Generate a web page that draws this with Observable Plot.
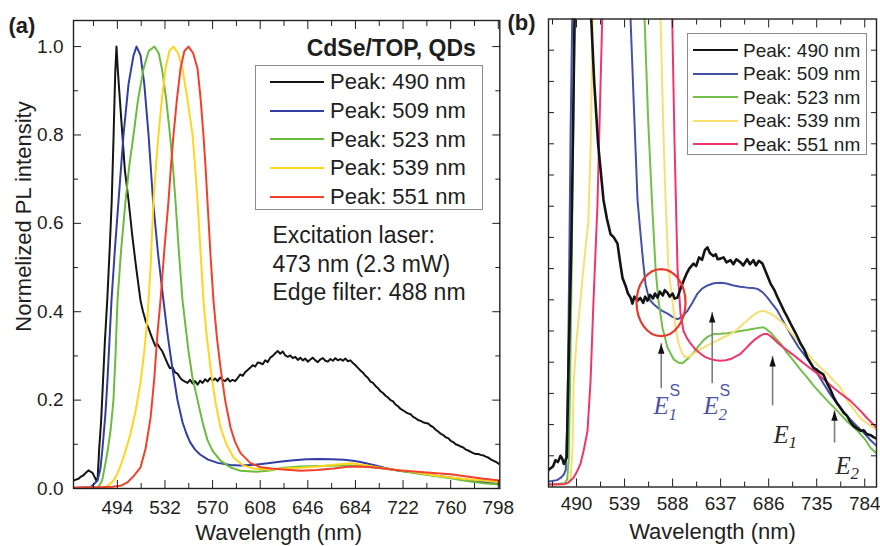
<!DOCTYPE html>
<html><head><meta charset="utf-8">
<script src="https://cdn.jsdelivr.net/npm/d3@7"></script>
<script src="https://cdn.jsdelivr.net/npm/@observablehq/plot@0.6"></script>
<style>
body{margin:0;background:#fff;}
#wrap{position:relative;width:880px;height:546px;overflow:hidden;background:#fff;font-family:"Liberation Sans",Arial,sans-serif;color:#1e1e1e;}
#pa{position:absolute;left:0;top:0;}
#pb{position:absolute;left:505px;top:0;}
#pa svg,#pb svg{overflow:visible;}
.legend{position:absolute;border:1px solid #8c8c8c;background:#fff;box-sizing:border-box;}
.legend .sw{position:absolute;height:0;border-top:2px solid #000;}
.legend .lb{position:absolute;white-space:nowrap;color:#1e1e1e;}
</style></head>
<body><div id="wrap"><div id="pa"></div><div id="pb"></div></div>
<script>
// ---------- series labels & colours ----------
const seriesNames = ["Peak: 490 nm", "Peak: 509 nm", "Peak: 523 nm", "Peak: 539 nm", "Peak: 551 nm"];
const colorsA = ["#141414", "#323ea3", "#6abb3e", "#ffd51e", "#f2402b"];
const colorsB = ["#141414", "#4550a8", "#72bf4a", "#f7df72", "#f0346c"];

// ---------- panel (a): normalized spectra [wavelength nm, intensity] ----------
const A490 = [[459,0.018],[461,0.02],[463,0.022],[465,0.027],[467,0.03],[469,0.036],[471,0.041],[472.5,0.038],[474,0.036],[475.5,0.028],[477,0.019],[478.3,0.024],[479.5,0.09],[481,0.15],[482.5,0.24],[484,0.33],[486,0.43],[488,0.55],[489.5,0.65],[491,0.8],[492.3,0.94],[493.3,1.0],[494.3,0.95],[495.5,0.9],[496.5,0.86],[498,0.8],[500,0.72],[503,0.65],[506,0.57],[509,0.5],[512.5,0.425],[514.5,0.4],[516.5,0.38],[518.5,0.365],[520.5,0.35],[522.5,0.335],[524.4,0.322],[526,0.327],[528,0.318],[530,0.31],[532,0.296],[534,0.283],[536,0.272],[538,0.274],[540,0.263],[542,0.26],[544,0.251],[546,0.245],[548,0.242],[550,0.239],[552,0.246],[554,0.238],[556,0.243],[558,0.235],[560,0.244],[562,0.239],[564,0.247],[566,0.242],[568,0.25],[570,0.244],[572,0.249],[574,0.243],[576,0.251],[578,0.246],[580,0.243],[582,0.249],[584,0.242],[586,0.246],[588,0.243],[590,0.25],[592,0.258],[594,0.255],[596,0.263],[598,0.268],[600,0.273],[602,0.279],[604,0.276],[606,0.285],[608,0.284],[610,0.281],[612,0.29],[614,0.286],[616,0.296],[618,0.3],[620,0.306],[622,0.311],[624,0.305],[626,0.31],[628,0.301],[630,0.298],[632,0.301],[634,0.295],[636,0.298],[638,0.291],[640,0.296],[642,0.29],[644,0.294],[646,0.287],[648,0.292],[650,0.296],[652,0.29],[654,0.286],[656,0.292],[658,0.295],[660,0.289],[662,0.287],[664,0.293],[666,0.289],[668,0.295],[670,0.29],[672,0.293],[674,0.289],[676,0.294],[678,0.288],[680,0.29],[682,0.284],[684,0.279],[686,0.273],[688,0.267],[690,0.262],[692,0.255],[694,0.25],[696,0.242],[698,0.239],[700,0.232],[702,0.227],[704,0.22],[706,0.216],[708,0.21],[710,0.206],[712,0.2],[714,0.197],[716,0.19],[718,0.186],[720,0.18],[722,0.177],[724,0.173],[726,0.17],[728,0.168],[730,0.162],[732,0.159],[734,0.155],[736,0.153],[738,0.15],[740,0.148],[742,0.147],[744,0.142],[746,0.139],[748,0.133],[750,0.129],[752,0.124],[754,0.121],[756,0.116],[758,0.114],[760,0.108],[762,0.105],[764,0.1],[766,0.098],[768,0.095],[770,0.093],[772,0.088],[774,0.086],[776,0.083],[778,0.08],[780,0.078],[782,0.078],[784,0.076],[786,0.075],[788,0.072],[790,0.07],[792,0.066],[794,0.063],[796,0.06],[798,0.057],[799.2,0.054]];
const A509 = [[459,0.001],[472.6,0.003],[478.2,0.018],[480.5,0.045],[482.1,0.09],[484.5,0.17],[486.1,0.245],[487.8,0.34],[489.3,0.425],[492,0.54],[494.9,0.65],[498.9,0.8],[502.9,0.915],[506.9,0.98],[509.3,1.0],[512.5,0.98],[515.5,0.915],[518.9,0.8],[522.5,0.65],[526.5,0.53],[530.8,0.425],[534,0.35],[538,0.27],[542,0.2],[546,0.15],[549,0.125],[552,0.105],[556,0.088],[560,0.077],[566,0.066],[574,0.058],[584,0.053],[592,0.052],[604,0.054],[614,0.057],[625,0.061],[635,0.064],[645,0.066],[655,0.067],[665,0.066],[675,0.065],[682,0.063],[688,0.06],[694,0.056],[700,0.052],[707,0.047],[715,0.042],[725,0.038],[734,0.035],[745,0.03],[760,0.025],[775,0.019],[786,0.015],[799.2,0.011]];
const A523 = [[459,0],[479,0.003],[482,0.02],[484.5,0.057],[486.5,0.09],[488.5,0.13],[490.9,0.2],[492.5,0.3],[494.1,0.425],[497,0.54],[500.5,0.65],[503.5,0.73],[506.9,0.8],[510.5,0.88],[514.9,0.95],[519,0.99],[523.6,1.0],[527,0.985],[529.6,0.95],[533,0.88],[536,0.8],[538.3,0.73],[540.4,0.65],[543,0.54],[546,0.425],[550.8,0.31],[554,0.25],[558,0.2],[562,0.15],[565.9,0.11],[570,0.085],[576.3,0.063],[584,0.048],[592.3,0.04],[605,0.038],[614,0.04],[626.6,0.047],[640,0.05],[655,0.051],[670,0.052],[680,0.052],[692,0.05],[706.4,0.045],[720,0.04],[733.5,0.034],[746,0.029],[759.9,0.023],[773,0.017],[786.2,0.012],[799.2,0.009]];
const A539 = [[459,0],[480,0.001],[484.5,0.003],[488,0.01],[490.9,0.018],[494.1,0.034],[497,0.055],[500,0.08],[504.5,0.124],[508.5,0.175],[512.5,0.24],[515.5,0.31],[518.1,0.39],[520.5,0.5],[522.8,0.65],[524.8,0.73],[526.8,0.8],[529.5,0.88],[532.4,0.95],[535.5,0.99],[538.8,1.0],[542.5,0.985],[546,0.95],[550,0.88],[554,0.8],[556,0.73],[558,0.65],[560.5,0.53],[562.7,0.425],[565.5,0.34],[568.3,0.274],[572,0.2],[576.3,0.138],[581,0.1],[586.7,0.07],[594,0.053],[602.7,0.045],[615,0.043],[626.6,0.045],[640,0.047],[653.7,0.05],[667,0.054],[680.1,0.057],[693,0.052],[706.4,0.046],[720,0.041],[733.5,0.036],[746,0.03],[759.9,0.025],[773,0.021],[786.2,0.018],[799.2,0.014]];
const A551 = [[459,0.002],[480,0.003],[490,0.004],[496.5,0.006],[502.1,0.014],[507,0.028],[512.5,0.048],[516.5,0.09],[520.5,0.16],[523.5,0.25],[526,0.35],[528.4,0.425],[531.5,0.54],[534.8,0.65],[536.8,0.73],[538.8,0.8],[541.5,0.88],[544.4,0.95],[547.5,0.99],[550.8,1.0],[554.5,0.985],[558,0.95],[560.5,0.88],[562.7,0.8],[564.3,0.73],[565.9,0.65],[568.3,0.53],[570.7,0.425],[573.5,0.34],[576.3,0.274],[580,0.2],[584.3,0.138],[588,0.105],[592.3,0.08],[600,0.058],[608.2,0.048],[617,0.045],[626.6,0.043],[640.2,0.04],[653,0.042],[666.5,0.045],[678,0.049],[688,0.05],[697,0.048],[706.4,0.045],[720,0.041],[733.5,0.038],[746,0.035],[759.9,0.032],[773,0.027],[786.2,0.022],[799.2,0.018]];

// ---------- panel (b): zoomed spectra [wavelength nm, intensity a.u.] ----------
const B490 = [[461.4,0.55],[463.5,0.6],[466,0.66],[468.5,0.86],[471,0.8],[473.7,1.0],[475.5,0.9],[477,0.74],[478.5,0.85],[480,0.95],[481.5,3.4],[483,5.5],[484.5,7.5],[486,10.5],[488,15],[490,19],[494,24],[499,21],[502,17.5],[505,15],[508,13],[512,11],[517.5,9.2],[521,8.6],[524.7,8.1],[528,8.0],[531.8,7.8],[534,7.3],[536.9,6.7],[540,6.45],[542.5,6.2],[545.1,6.07],[547,5.88],[549,6.1],[552.2,5.97],[555,6.06],[558,5.9],[560,6.1],[562.4,5.97],[565,6.16],[568,6.04],[570,6.2],[572.6,6.07],[575,6.26],[578,6.14],[580,6.31],[582.8,6.22],[585,6.1],[588,6.2],[590,6.04],[593,6.07],[596,6.35],[599.1,6.6],[602,6.82],[605,7.0],[609.3,7.16],[612,7.08],[615,7.36],[618,7.28],[621,7.6],[623.6,7.68],[626,7.5],[629.7,7.4],[632,7.46],[634,7.3],[636.9,7.32],[640,7.36],[643,7.2],[647.1,7.27],[650,7.14],[653,7.3],[657.3,7.2],[660,7.1],[664,7.3],[667,7.14],[670.5,7.27],[673,7.1],[676,7.25],[679.7,7.16],[683,6.9],[687.9,6.52],[692,6.3],[695,6.08],[698.1,5.88],[702,5.62],[705,5.45],[708.3,5.24],[712,5.02],[715,4.84],[718.5,4.6],[722,4.42],[725.6,4.14],[728,4.02],[731.7,3.82],[735,3.76],[738,3.68],[741.9,3.6],[746,3.3],[749,3.12],[752,2.9],[755.5,2.7],[759,2.55],[762.5,2.38],[766,2.28],[769,2.1],[772.5,1.96],[776,1.88],[780,1.8],[783,1.82],[786,1.7],[790,1.66],[793,1.6],[796,1.55]];
const B509 = [[461.4,0.18],[465,0.19],[470,0.22],[473.7,0.29],[477,0.4],[479,0.55],[480.8,2.3],[482.5,7],[484,11.5],[485.6,15],[488,20],[495,26],[509,30],[525,26],[538,20],[545.1,15],[548.5,12.2],[552.2,9.2],[555.3,8.1],[558,7.2],[560.4,6.5],[563,6.15],[565.5,5.97],[569,5.85],[572.6,5.75],[577,5.65],[582.8,5.56],[587,5.47],[591,5.4],[593.5,5.38],[596.1,5.43],[599,5.5],[603.2,5.65],[608,5.9],[613.4,6.2],[618,6.36],[623.6,6.46],[630,6.53],[636.9,6.55],[643,6.52],[650.1,6.46],[657,6.42],[664.4,6.39],[670,6.38],[674.6,6.35],[680,6.24],[684.8,6.07],[690,5.85],[695,5.65],[701,5.3],[708.3,4.9],[716,4.5],[725.6,4.1],[734,3.72],[741.9,3.32],[749,2.96],[757,2.62],[766,2.28],[775,1.98],[783,1.74],[790,1.5],[796,1.32]];
const B523 = [[461.4,0.09],[470,0.1],[478,0.12],[480.5,0.25],[482,0.9],[483.5,3.5],[485,7],[486.5,11],[488,15],[491,21],[523,30],[550,22],[555,18.5],[559.4,15],[563,11.8],[567.2,9.0],[570.6,7.0],[573.6,5.97],[577.7,5.1],[582.8,4.47],[588.9,4.1],[594,3.98],[598.1,3.97],[603.2,4.1],[609.3,4.3],[614,4.5],[619.5,4.7],[624,4.82],[629.7,4.9],[637,4.91],[644,4.93],[650,4.96],[657.3,5.0],[664,5.03],[670.5,5.07],[676,5.1],[680.7,5.12],[684,5.05],[687.9,4.95],[692,4.8],[698.1,4.6],[704,4.33],[711.3,4.05],[718,3.78],[725.6,3.5],[732,3.24],[738.9,3.0],[746,2.76],[756,2.44],[766,2.1],[776.6,1.8],[785,1.5],[790,1.25],[796,1.08]];
const B539 = [[461.4,0.05],[470,0.06],[478,0.08],[482,0.14],[484,0.3],[485.9,1.25],[487,3.3],[490,4.7],[494,6.0],[498,7.3],[502,8.5],[504.5,11],[506.5,15],[509,19],[539,30],[565,22],[572,18],[575.7,15],[578.5,11.5],[580.8,9.2],[583.8,7.0],[587.9,5.97],[591,5.1],[594,4.6],[597.5,4.3],[601.2,4.15],[605,4.18],[609.3,4.27],[614,4.37],[619.5,4.47],[626,4.58],[633.8,4.7],[640,4.8],[647.1,4.9],[654,5.05],[660.3,5.24],[667,5.42],[674.6,5.6],[680.7,5.65],[685,5.6],[690.9,5.5],[696,5.38],[701.1,5.24],[708,4.98],[715.4,4.7],[723,4.38],[731.7,4.05],[739,3.82],[746,3.63],[752.5,3.4],[759.3,3.18],[766.4,2.76],[773,2.48],[779.7,2.2],[786,2.05],[793,1.9],[796,1.85]];
const B551 = [[461.4,0.08],[470,0.09],[478,0.1],[482,0.15],[487,0.3],[490.5,0.5],[494,0.74],[497.5,1.2],[501.2,1.8],[504.3,3.4],[507.3,5.97],[511.3,9.0],[516.2,15],[520,19],[551,30],[580,21],[585,17.5],[587.6,15],[590,11],[591.5,9.0],[593,7.0],[596.1,5.56],[599.1,5.0],[602.5,4.78],[606.3,4.6],[611,4.42],[616.5,4.27],[621,4.17],[626.7,4.1],[632,4.06],[636.9,4.05],[642,4.06],[647.1,4.1],[652,4.18],[657.3,4.27],[662,4.42],[667.5,4.6],[672.5,4.74],[677.7,4.85],[681,4.9],[684.8,4.9],[688,4.83],[690.9,4.75],[696,4.6],[701.1,4.47],[710,4.26],[718.5,4.05],[727,3.84],[735.8,3.63],[744,3.4],[752.1,3.18],[760,2.98],[769.5,2.76],[779.7,2.44],[786,2.22],[793,2.0],[796,1.9]];

// ---------- ticks ----------
const xMajorA = [494, 532, 570, 608, 646, 684, 722, 760, 798];
const xMinorA = [475, 513, 551, 589, 627, 665, 703, 741, 779];
const yMajorA = [0, 0.2, 0.4, 0.6, 0.8, 1.0];
const yMinorA = [0.1, 0.3, 0.5, 0.7, 0.9];
const xMajorB = [490, 539, 588, 637, 686, 735, 784];
const xMinorB = [465.5, 514.5, 563.5, 612.5, 661.5, 710.5, 759.5];
const yTicksB = [1, 2, 3, 4, 5, 6, 7, 8, 9, 10, 11, 12, 13, 14];

// ---------- annotations of panel (b) ----------
const circleAnn = [{w: 576.2, v: 5.91}];
const arrowsB = [
  {w: 576.4, top: 4.59, bottom: 3.15},
  {w: 628.4, top: 5.59, bottom: 3.31},
  {w: 690.0, top: 4.18, bottom: 2.6},
  {w: 753.2, top: 2.44, bottom: 1.41}
];
const labelsB = [
  {w: 568.5, v: 2.35, main: "E", sub: "1", sup: "S", kind: "surface"},
  {w: 619.5, v: 2.35, main: "E", sub: "2", sup: "S", kind: "surface"},
  {w: 690.9, v: 1.41, main: "E", sub: "1", sup: "", kind: "core"},
  {w: 754.2, v: 0.42, main: "E", sub: "2", sup: "", kind: "core"}
];

// ---------- build tables ----------
const toRows = (arr, i) => arr.map(([w, v]) => ({w, v, s: seriesNames[i]}));
const dataA = [A490, A509, A523, A539, A551].flatMap(toRows);
const specB = [B490, B509, B523, B539, B551];
const dataBColored = [1, 2, 3, 4].flatMap(i => toRows(specB[i], i));
const dataBBlack = toRows(B490, 0);

const sans = '"Liberation Sans", Arial, Helvetica, sans-serif';
const serif = '"Liberation Serif", "Times New Roman", serif';
const ink = "#1e1e1e";

// custom symbols
const ellipseSymbol = {draw(ctx) {
  const rx = 24.5, ry = 33.5, k = 0.5523;
  ctx.moveTo(rx, 0);
  ctx.bezierCurveTo(rx, k * ry, k * rx, ry, 0, ry);
  ctx.bezierCurveTo(-k * rx, ry, -rx, k * ry, -rx, 0);
  ctx.bezierCurveTo(-rx, -k * ry, -k * rx, -ry, 0, -ry);
  ctx.bezierCurveTo(k * rx, -ry, rx, -k * ry, rx, 0);
  ctx.closePath();
}};
const headSymbol = {draw(ctx) {
  ctx.moveTo(0, 0); ctx.lineTo(-3.2, 10); ctx.lineTo(3.2, 10); ctx.closePath();
}};

const blank = () => "";

// ---------- panel (a) ----------
const plotA = Plot.plot({
  width: 505, height: 546,
  marginLeft: 73, marginRight: 5.7, marginTop: 20, marginBottom: 58,
  x: {domain: [459, 799.2]},
  y: {domain: [0, 1.059]},
  color: {domain: seriesNames, range: colorsA},
  style: {fontFamily: sans, fontSize: "19px", color: ink, background: "transparent", overflow: "visible"},
  marks: [
    Plot.line(dataA, {x: "w", y: "v", z: "s", stroke: "s", strokeWidth: 2, clip: true}),
    Plot.frame({stroke: "#222", strokeWidth: 1.4}),
    Plot.axisX({ticks: xMajorA, tickSize: 0, tickPadding: 12, label: null, fontSize: 19}),
    Plot.axisX({ticks: xMajorA, tickSize: -8, tickFormat: blank, label: null}),
    Plot.axisX({ticks: xMinorA, tickSize: -5, tickFormat: blank, label: null}),
    Plot.axisX({anchor: "top", ticks: xMajorA, tickSize: -8, tickFormat: blank, label: null}),
    Plot.axisX({anchor: "top", ticks: xMinorA, tickSize: -5, tickFormat: blank, label: null}),
    Plot.axisY({ticks: yMajorA, tickSize: 0, tickPadding: 10, tickFormat: d => d.toFixed(1), label: null, fontSize: 19}),
    Plot.axisY({ticks: yMajorA, tickSize: -8, tickFormat: blank, label: null}),
    Plot.axisY({ticks: yMinorA, tickSize: -5, tickFormat: blank, label: null}),
    Plot.axisY({anchor: "right", ticks: yMajorA, tickSize: -8, tickFormat: blank, label: null}),
    Plot.axisY({anchor: "right", ticks: yMinorA, tickSize: -5, tickFormat: blank, label: null}),
    Plot.text(["Wavelength (nm)"], {text: d => d, frameAnchor: "bottom", textAnchor: "middle", lineAnchor: "middle", dx: -8, dy: 44, fontSize: 22, fill: ink}),
    Plot.text(["Normelized PL intensity"], {text: d => d, frameAnchor: "left", textAnchor: "middle", lineAnchor: "middle", rotate: -90, dx: -50, dy: -38, fontSize: 22, fill: ink}),
    Plot.text(["(a)"], {text: d => d, frameAnchor: "top-left", textAnchor: "start", lineAnchor: "middle", dx: -65, dy: 5, fontSize: 22, fontWeight: "bold", fill: ink}),
    Plot.text(["CdSe/TOP, QDs"], {text: d => d, frameAnchor: "top-right", textAnchor: "end", lineAnchor: "bottom", dx: -24, dy: 35, fontSize: 23, fontWeight: "bold", fill: ink}),
    Plot.text(["Excitation laser:\n473 nm (2.3 mW)\nEdge filter: 488 nm"], {text: d => d, frameAnchor: "top-left", textAnchor: "start", lineAnchor: "top", lineHeight: 1.25, dx: 199, dy: 202, fontSize: 23, fill: ink})
  ]
});
document.getElementById("pa").append(plotA);

// ---------- panel (b) ----------
const plotB = Plot.plot({
  width: 375, height: 546,
  marginLeft: 43, marginRight: 4, marginTop: 18.5, marginBottom: 59.5,
  x: {domain: [461.4, 796]},
  y: {domain: [0, 15]},
  color: {domain: seriesNames, range: colorsB},
  style: {fontFamily: sans, fontSize: "19px", color: ink, background: "transparent", overflow: "visible"},
  marks: [
    Plot.line(dataBColored, {x: "w", y: "v", z: "s", stroke: "s", strokeWidth: 2, clip: true}),
    Plot.line(dataBBlack, {x: "w", y: "v", stroke: "s", strokeWidth: 2.6, clip: true}),
    Plot.dot(circleAnn, {x: "w", y: "v", symbol: ellipseSymbol, stroke: "#e8392d", strokeWidth: 2.2, fill: "none"}),
    Plot.ruleX(arrowsB, {x: "w", y1: "bottom", y2: "top", stroke: "#7c7c7c", strokeWidth: 1.6}),
    Plot.dot(arrowsB, {x: "w", y: "top", symbol: headSymbol, fill: "#111", stroke: "none"}),
    Plot.text(labelsB.filter(d => d.kind === "surface"), {x: "w", y: "v", text: "main", textAnchor: "start", lineAnchor: "bottom", fontFamily: serif, fontStyle: "italic", fontSize: 25, fill: "#4d55a8"}),
    Plot.text(labelsB.filter(d => d.kind === "surface"), {x: "w", y: "v", text: "sub", textAnchor: "start", lineAnchor: "bottom", dx: 15, dy: 6, fontFamily: serif, fontStyle: "italic", fontSize: 17, fill: "#4d55a8"}),
    Plot.text(labelsB.filter(d => d.kind === "surface"), {x: "w", y: "v", text: "sup", textAnchor: "start", lineAnchor: "bottom", dx: 16, dy: -18, fontFamily: sans, fontSize: 16, fill: "#4d55a8"}),
    Plot.text(labelsB.filter(d => d.kind === "core"), {x: "w", y: "v", text: "main", textAnchor: "start", lineAnchor: "bottom", fontFamily: serif, fontStyle: "italic", fontSize: 25, fill: "#2a2a2a"}),
    Plot.text(labelsB.filter(d => d.kind === "core"), {x: "w", y: "v", text: "sub", textAnchor: "start", lineAnchor: "bottom", dx: 15, dy: 5, fontFamily: serif, fontStyle: "italic", fontSize: 17, fill: "#2a2a2a"}),
    Plot.frame({stroke: "#222", strokeWidth: 1.4}),
    Plot.axisX({ticks: xMajorB, tickSize: 0, tickPadding: 9, label: null, fontSize: 19}),
    Plot.axisX({ticks: xMajorB, tickSize: -8, tickFormat: blank, label: null}),
    Plot.axisX({ticks: xMinorB, tickSize: -5, tickFormat: blank, label: null}),
    Plot.axisX({anchor: "top", ticks: xMajorB, tickSize: -8, tickFormat: blank, label: null}),
    Plot.axisX({anchor: "top", ticks: xMinorB, tickSize: -5, tickFormat: blank, label: null}),
    Plot.axisY({ticks: yTicksB, tickSize: -6, tickFormat: blank, label: null}),
    Plot.axisY({anchor: "right", ticks: yTicksB, tickSize: -6, tickFormat: blank, label: null}),
    Plot.text(["Wavelength (nm)"], {text: d => d, frameAnchor: "bottom", textAnchor: "middle", lineAnchor: "middle", dy: 45, fontSize: 22, fill: ink}),
    Plot.text(["(b)"], {text: d => d, frameAnchor: "top-left", textAnchor: "start", lineAnchor: "middle", dx: -41, dy: 4, fontSize: 22, fontWeight: "bold", fill: ink})
  ]
});
document.getElementById("pb").append(plotB);

// ---------- legends (HTML overlays) ----------
function legend({left, top, width, height, first, step, swX, swW, txtX, fs, colors}) {
  const box = document.createElement("div");
  box.className = "legend";
  Object.assign(box.style, {left: left + "px", top: top + "px", width: width + "px", height: height + "px"});
  seriesNames.forEach((name, i) => {
    const c = first + i * step - 1;
    const sw = document.createElement("div");
    sw.className = "sw";
    Object.assign(sw.style, {left: swX + "px", width: swW + "px", top: (c - 1) + "px", borderTopColor: colors[i]});
    const lb = document.createElement("div");
    lb.className = "lb";
    lb.textContent = name;
    Object.assign(lb.style, {left: txtX + "px", top: (c - 0.4885 * fs) + "px", fontSize: fs + "px", lineHeight: fs + "px"});
    box.append(sw, lb);
  });
  document.getElementById("wrap").append(box);
}
legend({left: 255, top: 65, width: 228, height: 145, first: 17, step: 28.7, swX: 14, swW: 54, txtX: 74, fs: 22, colors: colorsA});
legend({left: 687, top: 33, width: 180, height: 122, first: 17, step: 23.5, swX: 5, swW: 45, txtX: 55, fs: 19, colors: colorsB});
</script></body></html>
